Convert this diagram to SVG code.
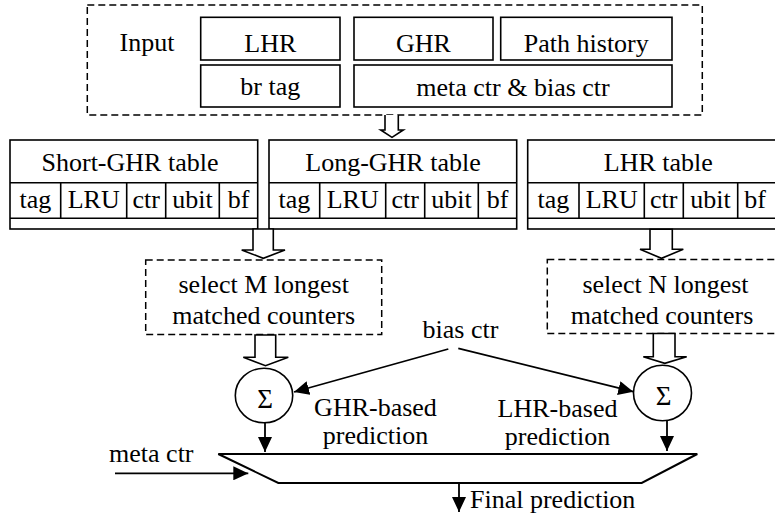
<svg xmlns="http://www.w3.org/2000/svg" width="775" height="527" viewBox="0 0 775 527">
<defs>
<style>
text{font-family:"Liberation Serif","Times New Roman",Tinos,"DejaVu Serif",serif;font-size:26px;fill:#000;text-anchor:middle}
.box{fill:#fff;stroke:#000;stroke-width:1.6}
.dash{fill:none;stroke:#000;stroke-width:1.5;stroke-dasharray:7,4}
.ln{fill:none;stroke:#000;stroke-width:1.6}
.hollow{fill:#fff;stroke:#000;stroke-width:1.6;stroke-linejoin:miter}
.arr{fill:none;stroke:#000;stroke-width:1.8;marker-end:url(#ah)}
</style>
<marker id="ah" viewBox="0 0 15 14" refX="15" refY="7" markerWidth="15" markerHeight="14" markerUnits="userSpaceOnUse" orient="auto">
<path d="M0,0 L15,7 L0,14 z" fill="#000"/>
</marker>
</defs>
<rect width="775" height="527" fill="#fff"/>

<g id="input" font-family="Liberation Serif, serif">
<rect class="dash" x="87.3" y="5" width="615" height="110"/>
<text x="147" y="51">Input</text>
</g>
<g id="lhr"><rect class="box" x="200.7" y="17.3" width="139.3" height="42.7"/><text x="270.3" y="51.5">LHR</text></g>
<g id="ghr"><rect class="box" x="354" y="17.3" width="139" height="42.7"/><text x="423.5" y="51.5">GHR</text></g>
<g id="path"><rect class="box" x="500.7" y="17.3" width="171.3" height="42.7"/><text x="586.3" y="51.5">Path history</text></g>
<g id="brtag"><rect class="box" x="200.7" y="65" width="139.3" height="42"/><text x="270.3" y="95">br tag</text></g>
<g id="metabias"><rect class="box" x="354" y="65" width="318" height="42"/><text x="513" y="96">meta ctr &amp; bias ctr</text></g>

<g id="short-table">
<rect class="box" x="10" y="140" width="247.7" height="89"/>
<path class="ln" d="M10,182.7 H257.7 M10,218.3 H257.7 M60.7,182.7 V218.3 M126.7,182.7 V218.3 M165.7,182.7 V218.3 M219.3,182.7 V218.3"/>
<text x="130" y="170.5">Short-GHR table</text>
<text x="35.3" y="208">tag</text><text x="93.7" y="208">LRU</text><text x="146.2" y="208">ctr</text><text x="192.5" y="208">ubit</text><text x="238.5" y="208">bf</text>
</g>
<g id="long-table">
<rect class="box" x="269" y="140" width="247.7" height="89"/>
<path class="ln" d="M269,182.7 H516.7 M269,218.3 H516.7 M319.7,182.7 V218.3 M385.7,182.7 V218.3 M424.7,182.7 V218.3 M478.3,182.7 V218.3"/>
<text x="393" y="170.5">Long-GHR table</text>
<text x="294.3" y="208">tag</text><text x="352.7" y="208">LRU</text><text x="405.2" y="208">ctr</text><text x="451.5" y="208">ubit</text><text x="497.5" y="208">bf</text>
</g>
<g id="lhr-table">
<rect class="box" x="527.7" y="140" width="260" height="89"/>
<path class="ln" d="M527.7,182.7 H776 M527.7,218.3 H776 M579,182.7 V218.3 M644.3,182.7 V218.3 M683.3,182.7 V218.3 M737.7,182.7 V218.3"/>
<text x="658.3" y="170.5">LHR table</text>
<text x="553.3" y="208">tag</text><text x="611.7" y="208">LRU</text><text x="663.8" y="208">ctr</text><text x="710.5" y="208">ubit</text><text x="755" y="208">bf</text>
</g>

<g id="select-m">
<rect class="dash" x="145.7" y="260" width="236" height="74.5"/>
<text x="263.7" y="293.3">select M longest</text>
<text x="263.7" y="323.5">matched counters</text>
</g>
<g id="select-n">
<rect class="dash" x="547.3" y="259.5" width="236" height="74"/>
<text x="665.5" y="293.3">select N longest</text>
<text x="662" y="323.5">matched counters</text>
</g>

<g id="sum-ghr">
<ellipse class="box" cx="264" cy="395.5" rx="28.7" ry="27.3"/>
<text x="265" y="407.5" style="font-size:27px">Σ</text>
</g>
<g id="sum-lhr">
<ellipse class="box" cx="662.5" cy="393" rx="29" ry="27.8"/>
<text x="663.5" y="405" style="font-size:27px">Σ</text>
</g>

<g id="mux">
<polygon points="218.3,454 697.3,454 641.7,483 278.3,483" fill="#fff" stroke="#000" stroke-width="2"/>
</g>

<g id="labels">
<text x="460.5" y="338">bias ctr</text>
<text x="375.5" y="416">GHR-based</text>
<text x="375.5" y="444.3">prediction</text>
<text x="557.5" y="416.5">LHR-based</text>
<text x="557.5" y="445">prediction</text>
<text x="151.3" y="461.7">meta ctr</text>
<text x="470" y="508" style="text-anchor:start">Final prediction</text>
</g>

<g id="connectors">
<path class="hollow" d="M385,115 V130 H380.7 L392,137.3 L403.3,130 H398.3 V115"/>
<path class="hollow" d="M253,229 V250 H241.7 L263.3,258.3 L285,250 H273.3 V229 Z"/>
<path class="hollow" d="M650,229.3 V249.3 H640 L661.5,258.3 L683.3,249.3 H672.3 V229.3 Z"/>
<path class="hollow" d="M255,335 V357.3 H243.3 L265.5,365.7 L288.3,357.3 H275.7 V335 Z"/>
<path class="hollow" d="M653.3,333.5 V356.7 H643.3 L664.8,363.3 L686.7,356.7 H675 V333.5 Z"/>
<line class="arr" x1="448.3" y1="349" x2="294" y2="392"/>
<line class="arr" x1="458.3" y1="348.3" x2="633.3" y2="391.7"/>
<line class="arr" x1="265" y1="423" x2="265" y2="452"/>
<line class="arr" x1="667" y1="421" x2="667" y2="451"/>
<line class="arr" x1="115" y1="473.3" x2="248.3" y2="473.3"/>
<line class="arr" x1="459" y1="483" x2="459" y2="512"/>
</g>
</svg>
